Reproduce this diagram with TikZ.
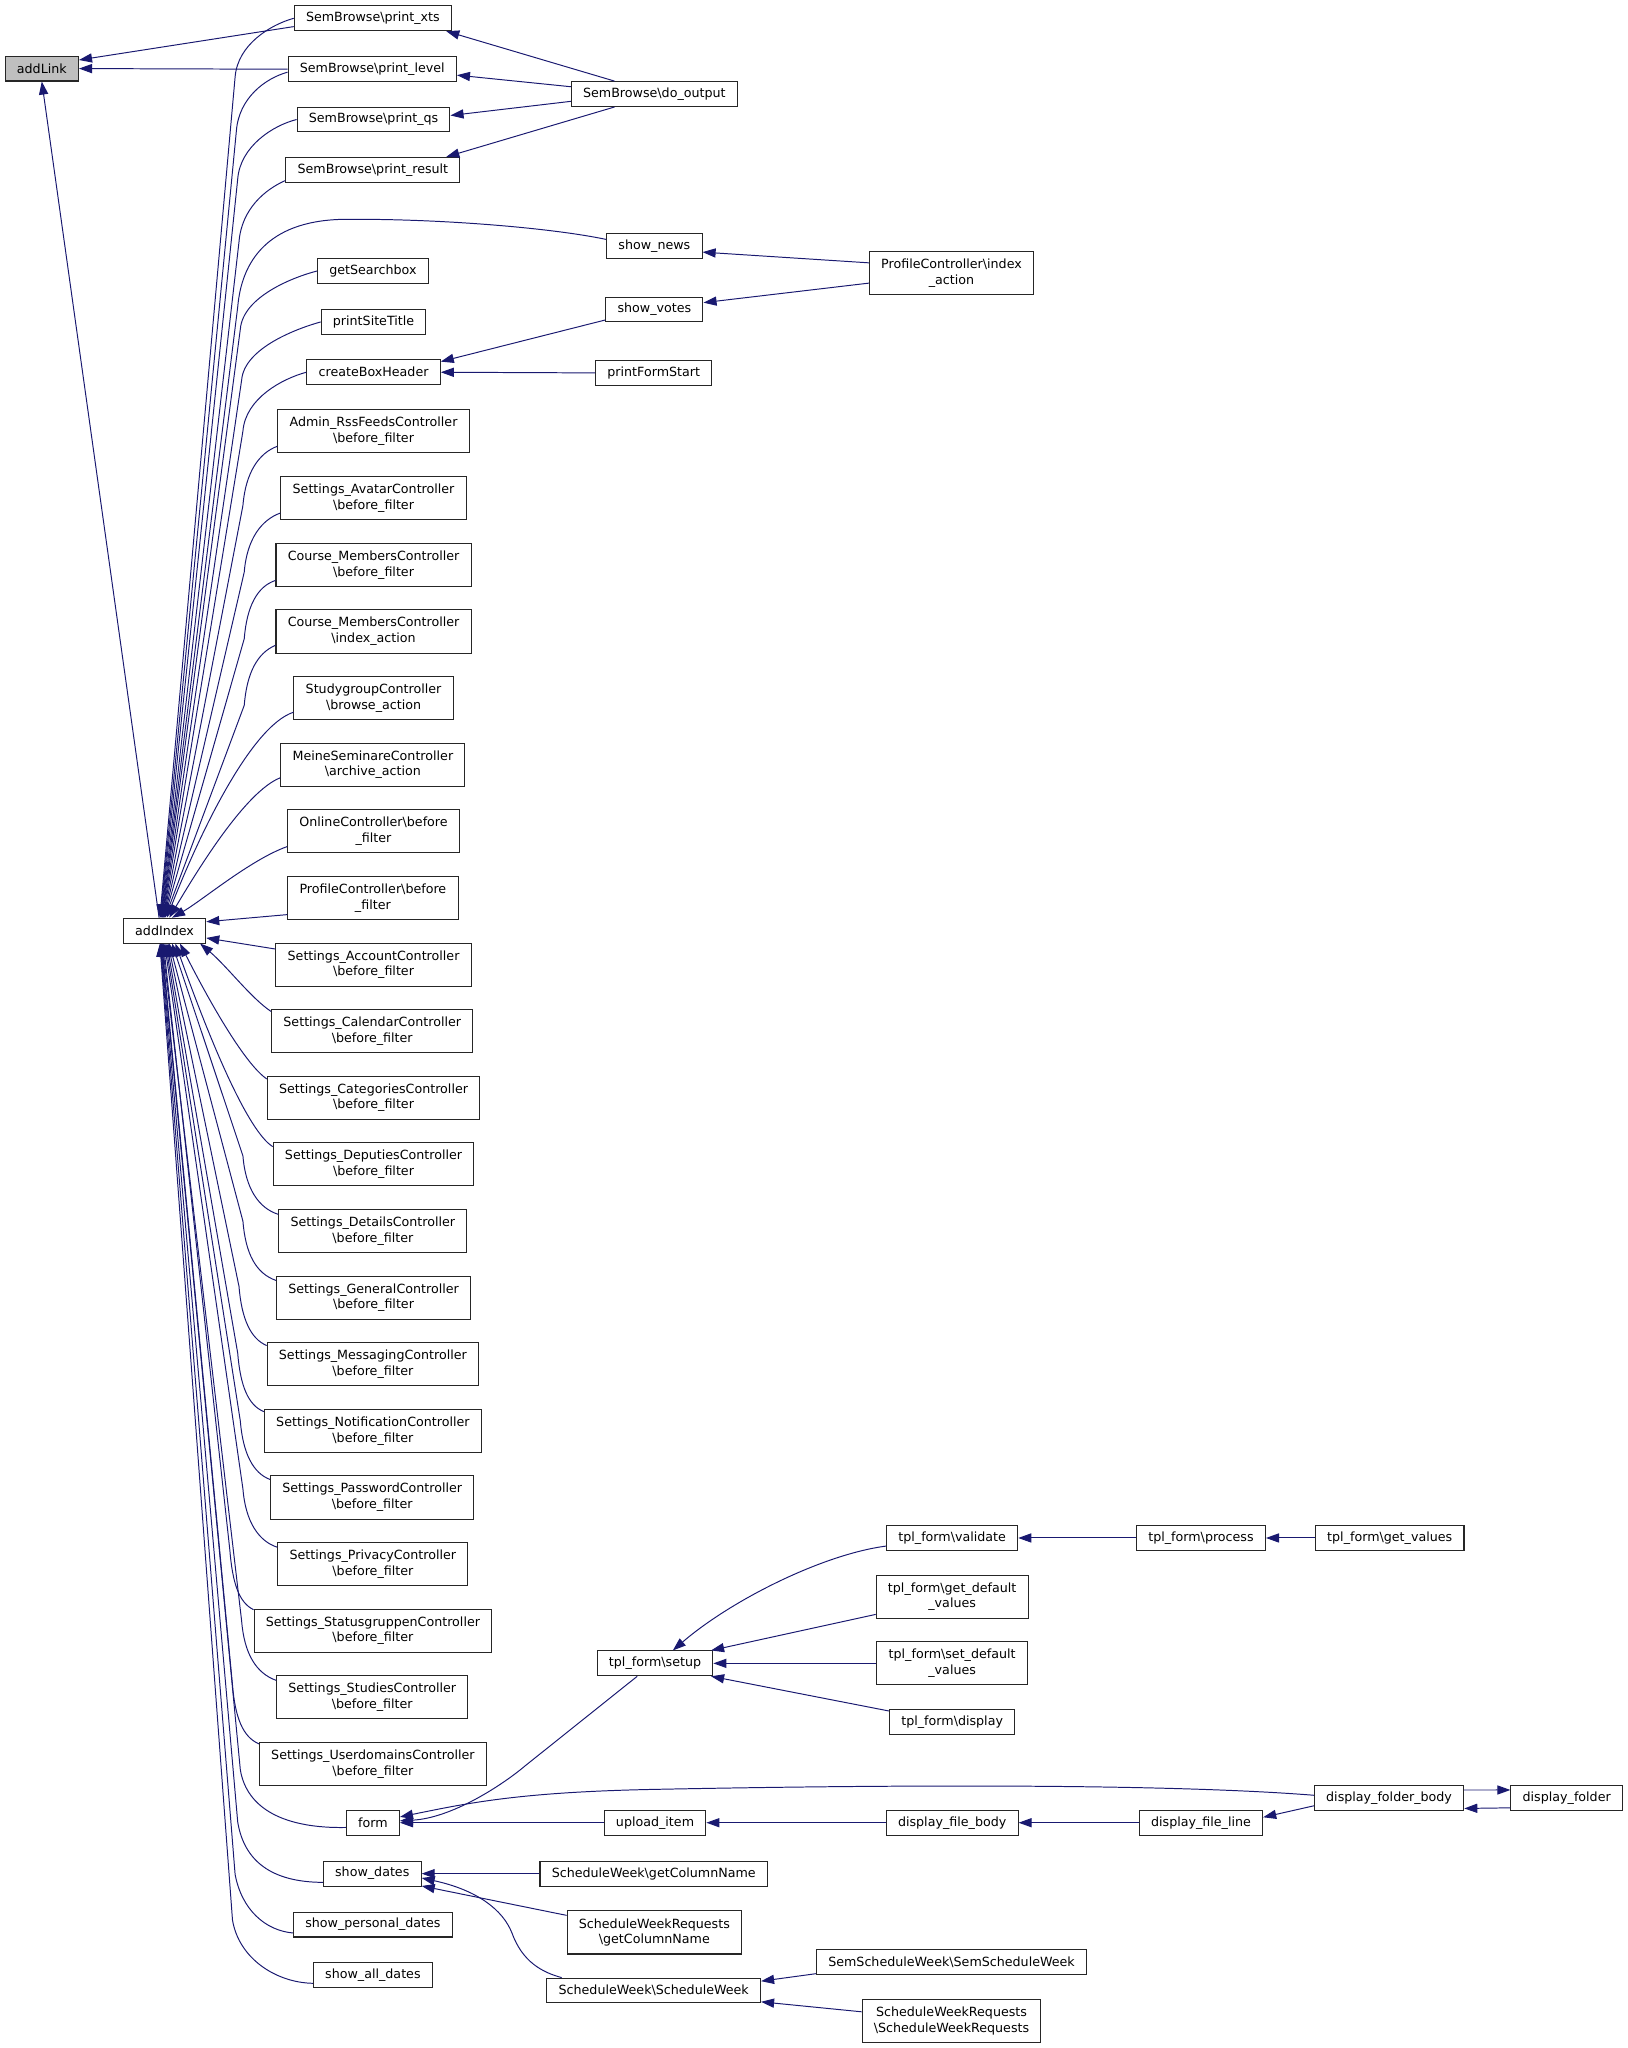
\documentclass[tikz,border=0pt]{standalone}
\usepackage{fontspec}
\setmainfont{DejaVu Sans}
\usepackage{tikz}
\usetikzlibrary{arrows.meta}
\definecolor{edgeblue}{HTML}{191970}
\definecolor{boxgray}{HTML}{BFBFBF}

\begin{document}
\begin{tikzpicture}[x=1pt,y=-1pt,
    func/.style={draw=black!85, line width=0.8pt, rectangle, inner xsep=9pt, inner ysep=1pt,
        minimum height=19pt, font=\fontsize{9.7}{12}\selectfont},
    func2/.style={func, minimum height=33pt, align=center},
    call/.style={draw=edgeblue, line width=0.75pt, {Triangle[length=10pt,width=7pt]}-}]
    \useasboundingbox (0,0) rectangle (1246,1568);
    % callee and its direct callers
    \node[func, fill=boxgray] (addlink) at (32,52.5) {addLink};
    \node[func] (addindex) at (126,712.5) {addIndex};
    \node[func] (printxts) at (285.5,14) {SemBrowse\textbackslash print\_xts};
    \node[func] (printlevel) at (285,53) {SemBrowse\textbackslash print\_level};
    \node[func] (printqs) at (286,91.5) {SemBrowse\textbackslash print\_qs};
    \node[func] (printresult) at (285.5,130) {SemBrowse\textbackslash print\_result};
    \node[func] (dooutput) at (501,72) {SemBrowse\textbackslash do\_output};
    \node[func] (shownews) at (501,188.5) {show\_news};
    \node[func2] (profindex) at (728.5,209) {ProfileController\textbackslash index\\\_action};
    \node[func] (getsearchbox) at (285.5,207.5) {getSearchbox};
    \node[func] (printsitetitle) at (286,246.5) {printSiteTitle};
    \node[func] (showvotes) at (501,237) {show\_votes};
    \node[func] (createboxheader) at (286,285) {createBoxHeader};
    \node[func] (printformstart) at (500.5,285.5) {printFormStart};
    % controllers
    \node[func2] (adminrss) at (286,330) {Admin\_RssFeedsController\\\textbackslash before\_filter};
    \node[func2] (setavatar) at (286,381.5) {Settings\_AvatarController\\\textbackslash before\_filter};
    \node[func2] (coursebefore) at (286,432.5) {Course\_MembersController\\\textbackslash before\_filter};
    \node[func2] (courseindex) at (286,483.5) {Course\_MembersController\\\textbackslash index\_action};
    \node[func2] (studygroup) at (286,534.5) {StudygroupController\\\textbackslash browse\_action};
    \node[func2] (meineseminare) at (285.5,585.5) {MeineSeminareController\\\textbackslash archive\_action};
    \node[func2] (onlinebefore) at (286,636.5) {OnlineController\textbackslash before\\\_filter};
    \node[func2] (profbefore) at (285.5,687.5) {ProfileController\textbackslash before\\\_filter};
    \node[func2] (setaccount) at (286,738.5) {Settings\_AccountController\\\textbackslash before\_filter};
    \node[func2] (setcalendar) at (285,789.5) {Settings\_CalendarController\\\textbackslash before\_filter};
    \node[func2] (setcategories) at (286,840.5) {Settings\_CategoriesController\\\textbackslash before\_filter};
    \node[func2] (setdeputies) at (286,891.5) {Settings\_DeputiesController\\\textbackslash before\_filter};
    \node[func2] (setdetails) at (285.5,942.5) {Settings\_DetailsController\\\textbackslash before\_filter};
    \node[func2] (setgeneral) at (286,993.5) {Settings\_GeneralController\\\textbackslash before\_filter};
    \node[func2] (setmessaging) at (285.5,1044.5) {Settings\_MessagingController\\\textbackslash before\_filter};
    \node[func2] (setnotification) at (285.5,1095.5) {Settings\_NotificationController\\\textbackslash before\_filter};
    \node[func2] (setpassword) at (285,1146.5) {Settings\_PasswordController\\\textbackslash before\_filter};
    \node[func2] (setprivacy) at (285.5,1197.5) {Settings\_PrivacyController\\\textbackslash before\_filter};
    \node[func2] (setstatus) at (285.5,1248.5) {Settings\_StatusgruppenController\\\textbackslash before\_filter};
    \node[func2] (setstudies) at (285,1299.5) {Settings\_StudiesController\\\textbackslash before\_filter};
    \node[func2] (setuserdomains) at (285.5,1350.5) {Settings\_UserdomainsController\\\textbackslash before\_filter};
    % lower part
    \node[func] (form) at (285.5,1395.5) {form};
    \node[func] (showdates) at (285,1434.5) {show\_dates};
    \node[func] (showpersonal) at (285.5,1473.5) {show\_personal\_dates};
    \node[func] (showall) at (285.5,1512) {show\_all\_dates};
    \node[func] (tplsetup) at (501.5,1273.5) {tpl\_form\textbackslash setup};
    \node[func] (tplvalidate) at (729,1177.5) {tpl\_form\textbackslash validate};
    \node[func2] (tplgetdef) at (729,1222.5) {tpl\_form\textbackslash get\_default\\\_values};
    \node[func2] (tplsetdef) at (729,1273.5) {tpl\_form\textbackslash set\_default\\\_values};
    \node[func] (tpldisplay) at (729,1318.5) {tpl\_form\textbackslash display};
    \node[func] (tplprocess) at (919.5,1177.5) {tpl\_form\textbackslash process};
    \node[func] (tplgetvalues) at (1064,1177.5) {tpl\_form\textbackslash get\_values};
    \node[func] (uploaditem) at (501.5,1395.5) {upload\_item};
    \node[func] (filebody) at (729,1395.5) {display\_file\_body};
    \node[func] (fileline) at (919.5,1395.5) {display\_file\_line};
    \node[func] (folderbody) at (1063.5,1376.5) {display\_folder\_body};
    \node[func] (folder) at (1199.5,1376.5) {display\_folder};
    \node[func] (swgetcol) at (500.5,1434.5) {ScheduleWeek\textbackslash getColumnName};
    \node[func2] (swrgetcol) at (501,1479.5) {ScheduleWeekRequests\\\textbackslash getColumnName};
    \node[func] (swsw) at (500.5,1524) {ScheduleWeek\textbackslash ScheduleWeek};
    \node[func] (semsw) at (728.5,1502) {SemScheduleWeek\textbackslash SemScheduleWeek};
    \node[func2] (swrswr) at (728.5,1547.5) {ScheduleWeekRequests\\\textbackslash ScheduleWeekRequests};

    \draw[call] (addlink.13) -- (printxts.186);
    \draw[call] (addlink.east) -- (printlevel.west);
    \draw[call] (addlink.south) -- (addindex.113);
    \draw[call] (printxts.-10) -- (dooutput.162);
    \draw[call] (printlevel.-4) -- (dooutput.175);
    \draw[call] (printqs.3) -- (dooutput.185);
    \draw[call] (printresult.10) -- (dooutput.198);
    \draw[call] (shownews.-7) -- (profindex.173);
    \draw[call] (showvotes.8) -- (profindex.187);
    \draw[call] (createboxheader.9) -- (showvotes.192);
    \draw[call] (createboxheader.east) -- (printformstart.west);

    % fan into addIndex, upper half
    \draw[call] (addindex.110) -- (180,59) .. controls (182,34) and (207,19) .. (printxts.west);
    \draw[call] (addindex.108) -- (181,100) .. controls (183,75) and (203,60) .. (printlevel.182);
    \draw[call] (addindex.106) -- (182,137) .. controls (184,112) and (209,96) .. (printqs.west);
    \draw[call] (addindex.104) -- (183,185) .. controls (185,160) and (203,145) .. (printresult.187);
    \draw[call] (addindex.102) -- (182,235) .. controls (185,200) and (205,170) .. (260,168)
        .. controls (330,167) and (420,174) .. (shownews.172);
    \draw[call] (addindex.100) -- (184,252) .. controls (186,227) and (225,212) .. (getsearchbox.west);
    \draw[call] (addindex.98) -- (185,291) .. controls (187,266) and (229,251) .. (printsitetitle.west);
    \draw[call] (addindex.96) -- (186,330) .. controls (188,305) and (216,290) .. (createboxheader.west);
    \draw[call] (addindex.94) -- (186,387) .. controls (188,362) and (198,347) .. (adminrss.189);
    \draw[call] (addindex.92) -- (187,438) .. controls (189,413) and (200,398) .. (setavatar.189);
    \draw[call] (addindex.90) -- (187,489) .. controls (189,464) and (197,449) .. (coursebefore.189);
    \draw[call] (addindex.88) -- (187,540) .. controls (189,515) and (197,500) .. (courseindex.188);
    \draw[call] (addindex.80) .. controls (152,640) and (192,556) .. (studygroup.190);
    \draw[call] (addindex.70) .. controls (152,665) and (188,606) .. (meineseminare.188);
    \draw[call] (addindex.60) .. controls (154,690) and (192,658) .. (onlinebefore.190);
    \draw[call] (addindex.12) -- (profbefore.191);
    % fan into addIndex, lower half
    \draw[call] (addindex.-10) -- (setaccount.171);
    \draw[call] (addindex.-20) .. controls (174,740) and (192,764) .. (setcalendar.169);
    \draw[call] (addindex.-40) .. controls (162,770) and (188,815) .. (setcategories.170);
    \draw[call] (addindex.-50) .. controls (162,800) and (190,866) .. (setdeputies.170);
    \draw[call] (addindex.-60) -- (186,885) .. controls (188,910) and (198,925) .. (setdetails.170);
    \draw[call] (addindex.-70) -- (186,935) .. controls (188,960) and (196,975) .. (setgeneral.170);
    \draw[call] (addindex.-75) -- (183,985) .. controls (185,1010) and (192,1025) .. (setmessaging.170);
    \draw[call] (addindex.-80) -- (182,1036) .. controls (184,1061) and (190,1076) .. (setnotification.170);
    \draw[call] (addindex.-85) -- (184,1088) .. controls (186,1113) and (194,1128) .. (setpassword.170);
    \draw[call] (addindex.-90) -- (186,1140) .. controls (188,1165) and (198,1180) .. (setprivacy.170);
    \draw[call] (addindex.-95) -- (176,1187) .. controls (178,1212) and (183,1227) .. (setstatus.170);
    \draw[call] (addindex.-100) -- (185,1241) .. controls (187,1266) and (196,1281) .. (setstudies.170);
    \draw[call] (addindex.-102) -- (178,1290) .. controls (180,1315) and (186,1330) .. (setuserdomains.170);
    \draw[call] (addindex.-104) -- (184,1355) .. controls (189,1385) and (218,1400) .. (form.190);
    \draw[call] (addindex.-106) -- (182,1395) .. controls (187,1425) and (208,1441) .. (showdates.190);
    \draw[call] (addindex.-108) -- (180,1435) .. controls (185,1462) and (203,1478) .. (showpersonal.186);
    \draw[call] (addindex.-110) -- (178,1470) .. controls (183,1500) and (212,1518) .. (showall.188);

    % tpl_form and folders
    \draw[call] (tplsetup.36) .. controls (560,1225) and (630,1190) .. (tplvalidate.187);
    \draw[call] (tplsetup.13) -- (tplgetdef.193);
    \draw[call] (tplsetup.east) -- (tplsetdef.west);
    \draw[call] (tplsetup.-13) -- (tpldisplay.170);
    \draw[call] (tplvalidate.east) -- (tplprocess.west);
    \draw[call] (tplprocess.east) -- (tplgetvalues.west);
    \draw[call] (form.4) .. controls (345,1392) and (383,1368) .. (402,1352) -- (tplsetup.216);
    \draw[call] (form.12) .. controls (360,1380) and (400,1372) .. (500,1370)
        .. controls (700,1366) and (900,1366) .. (folderbody.178);
    \draw[call] (form.east) -- (uploaditem.west);
    \draw[call] (uploaditem.east) -- (filebody.west);
    \draw[call] (filebody.east) -- (fileline.west);
    \draw[call] (fileline.5) -- (folderbody.186);
    \draw[call] (folder.172) -- (folderbody.6);
    \draw[call] (folderbody.352) -- (folder.190);

    % schedule week
    \draw[call] (showdates.east) -- (swgetcol.west);
    \draw[call] (showdates.-14) -- (swrgetcol.169);
    \draw[call] (showdates.-5) .. controls (365,1447) and (385,1462) .. (392,1480)
        .. controls (400,1502) and (415,1510) .. (swsw.172);
    \draw[call] (swsw.5) -- (semsw.185);
    \draw[call] (swsw.-6) -- (swrswr.174);
\end{tikzpicture}
\end{document}
